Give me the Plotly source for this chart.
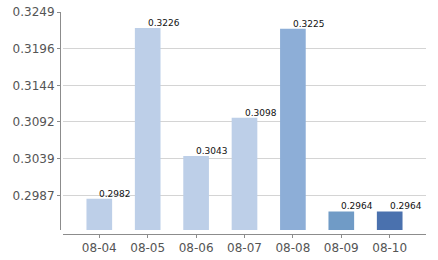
import plotly.graph_objects as go

categories = ["08-04", "08-05", "08-06", "08-07", "08-08", "08-09", "08-10"]
values = [0.2982, 0.3226, 0.3043, 0.3098, 0.3225, 0.2964, 0.2964]
value_labels = ["0.2982", "0.3226", "0.3043", "0.3098", "0.3225", "0.2964", "0.2964"]
bar_colors = ["#BDCFE8", "#BDCFE8", "#BDCFE8", "#BDCFE8", "#8DAED7", "#709BC6", "#4A71AE"]
y_tick_vals = [0.2987, 0.30394, 0.30918, 0.31442, 0.31966, 0.3249]
y_tick_text = ["0.2987", "0.3039", "0.3092", "0.3144", "0.3196", "0.3249"]
y_range = [0.29374, 0.3249]

W, H = 438, 260
ml, mr, mt, mb = 60, 12, 12, 26
pw, ph = W - ml - mr, H - mt - mb

fig = go.Figure()
fig.add_trace(go.Bar(
    x=categories, y=values,
    marker=dict(color=bar_colors, line=dict(width=0)),
    hoverinfo="x+y",
))

for c, v, t in zip(categories, values, value_labels):
    fig.add_annotation(
        x=c, y=v, text=t, showarrow=False,
        xanchor="left", yanchor="bottom", xshift=-2, yshift=-2,
        font=dict(family="DejaVu Sans", size=9, color="#111111"),
    )

fig.update_layout(
    width=W, height=H,
    margin=dict(l=ml, r=mr, t=mt, b=mb, pad=0, autoexpand=False),
    paper_bgcolor="white", plot_bgcolor="white",
    bargap=0.47,
    showlegend=False,
    xaxis=dict(
        type="category", automargin=False,
        domain=[3 / pw, 1], anchor="free", position=0,
        range=[-0.75, 6.75],
        showline=True, linecolor="#8c8c8c", linewidth=1,
        ticks="outside", ticklen=3, tickcolor="#8c8c8c",
        showgrid=False, zeroline=False,
        tickfont=dict(family="DejaVu Sans", size=12, color="#555555"),
    ),
    yaxis=dict(
        automargin=False,
        domain=[4 / ph, 1], anchor="free", position=0,
        range=y_range,
        tickvals=y_tick_vals, ticktext=y_tick_text,
        showline=True, linecolor="#8c8c8c", linewidth=1,
        ticks="outside", ticklen=3, tickcolor="#8c8c8c",
        showgrid=True, gridcolor="#d4d4d4", gridwidth=1,
        zeroline=False,
        tickfont=dict(family="DejaVu Sans", size=12, color="#555555"),
    ),
)

fig.write_html("out.html")
